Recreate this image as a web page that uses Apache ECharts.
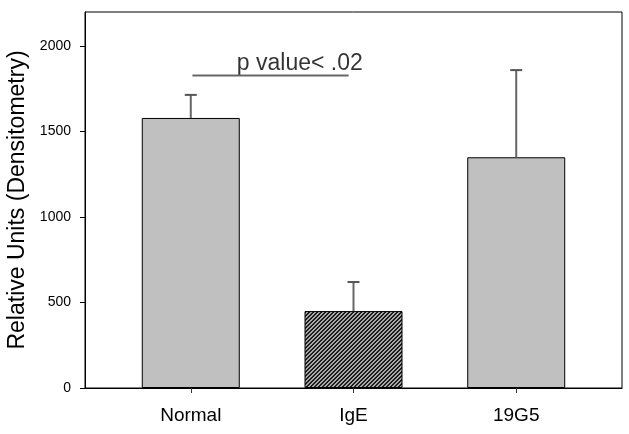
<!DOCTYPE html>
<html>
<head>
<meta charset="utf-8">
<script src="https://cdn.jsdelivr.net/npm/echarts@6/dist/echarts.min.js"></script>
<style>
  html, body { margin: 0; padding: 0; background: #fff; }
  #chart { width: 629px; height: 434px; }
</style>
</head>
<body>
<div id="chart"></div>
<script>
// Densitometry readings per group (mean and upper error)
const categories = ['Normal', 'IgE', '19G5'];
const positions = [1, 2, 3];
const means = [1580, 450, 1350];
const upperErrors = [135, 170, 510];
const yTicks = [0, 500, 1000, 1500, 2000];

// Significance bracket between Normal and IgE
const sigLabel = 'p value< .02';
const sigLineX = [1.01, 1.97];
const sigLineY = 1828;
const sigLabelPos = [1.67, 1900];

const FONT = "'Liberation Sans', Arial, Helvetica, sans-serif";

// Fine diagonal hatch used for the IgE bar
function makeHatch() {
  const c = document.createElement('canvas');
  c.width = 4; c.height = 4;
  const ctx = c.getContext('2d');
  const img = ctx.createImageData(4, 4);
  for (let y = 0; y < 4; y++) {
    for (let x = 0; x < 4; x++) {
      const i = (y * 4 + x) * 4;
      const dark = (x + y) % 4 < 2;
      const v = dark ? 0x1c : 0xa8;
      img.data[i] = v; img.data[i + 1] = v; img.data[i + 2] = v; img.data[i + 3] = 255;
    }
  }
  ctx.putImageData(img, 0, 0);
  return c;
}
const hatch = makeHatch();

const barData = positions.map((x, i) => ({
  value: [x, means[i]],
  itemStyle: i === 1
    ? { color: { image: hatch, repeat: 'repeat' }, borderColor: '#000', borderWidth: 1 }
    : { color: '#c0c0c0', borderColor: '#000', borderWidth: 1 }
}));
const errData = positions.map((x, i) => [x, means[i], means[i] + upperErrors[i]]);

const chart = echarts.init(document.getElementById('chart'), null, { renderer: 'canvas' });
chart.setOption({
  animation: false,
  backgroundColor: '#fff',
  grid: {
    left: 85, right: 7, top: 12, bottom: 46,
    outerBoundsMode: 'none',
    containLabel: false,
    show: true, borderColor: '#000', borderWidth: 1, backgroundColor: 'transparent'
  },
  xAxis: {
    type: 'value',
    min: 0.35, max: 3.65,
    splitLine: { show: false },
    axisLine: { show: true, onZero: false, lineStyle: { color: '#000', width: 1 } },
    axisTick: { show: true, customValues: positions, length: 5, lineStyle: { color: '#333' } },
    axisLabel: {
      customValues: positions,
      formatter: v => categories[Math.round(v) - 1] || '',
      color: '#000', fontFamily: FONT, fontSize: 19, margin: 18
    }
  },
  yAxis: {
    type: 'value',
    min: 0, max: 2200,
    name: 'Relative Units (Densitometry)',
    nameLocation: 'middle',
    nameGap: 49,
    nameTextStyle: { color: '#000', fontFamily: FONT, fontSize: 23 },
    splitLine: { show: false },
    axisLine: { show: true, lineStyle: { color: '#000', width: 1 } },
    axisTick: { show: true, customValues: yTicks, length: 5, lineStyle: { color: '#000' } },
    axisLabel: {
      customValues: yTicks,
      formatter: v => String(v),
      color: '#000', fontFamily: FONT, fontSize: 14, margin: 14
    }
  },
  series: [
    {
      type: 'bar',
      data: barData,
      barWidth: 98,
      z: 2
    },
    {
      type: 'custom',
      data: errData,
      z: 3,
      renderItem: (params, api) => {
        const x = api.value(0);
        const p0 = api.coord([x, api.value(1)]);
        const p1 = api.coord([x, api.value(2)]);
        return {
          type: 'group',
          children: [
            { type: 'line', shape: { x1: p0[0], y1: p0[1], x2: p1[0], y2: p1[1] },
              style: { stroke: '#666', lineWidth: 2 } },
            { type: 'line', shape: { x1: p1[0] - 6, y1: p1[1], x2: p1[0] + 6, y2: p1[1] },
              style: { stroke: '#555', lineWidth: 2 } }
          ]
        };
      }
    },
    {
      type: 'line',
      data: sigLineX.map(x => [x, sigLineY]),
      symbol: 'none',
      lineStyle: { color: '#666', width: 2 },
      z: 3
    },
    {
      type: 'scatter',
      data: [sigLabelPos],
      symbolSize: 0,
      label: {
        show: true, position: 'inside',
        formatter: sigLabel,
        color: '#000', fontFamily: FONT, fontSize: 23
      }
    }
  ]
});
</script>
</body>
</html>
